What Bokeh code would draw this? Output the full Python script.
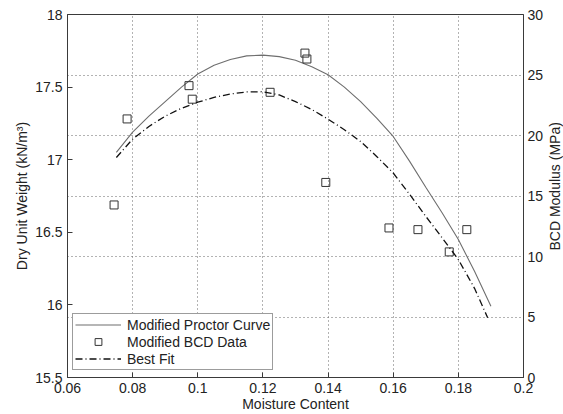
import math
from bokeh.plotting import figure
from bokeh.models import (Range1d, LinearAxis, FixedTicker, Grid, Legend, LegendItem, Label)
from bokeh.layouts import row
from bokeh.embed import file_html
from bokeh.resources import INLINE

# ---------------- data ----------------
proctor_moisture = [0.075, 0.08, 0.085, 0.09, 0.095, 0.10, 0.105, 0.11, 0.115, 0.12,
                    0.125, 0.13, 0.135, 0.14, 0.145, 0.15, 0.155, 0.16, 0.165, 0.17,
                    0.175, 0.18, 0.185, 0.19]
proctor_weight = [17.05, 17.19, 17.30, 17.40, 17.50, 17.59, 17.65, 17.69, 17.715, 17.72,
                  17.71, 17.685, 17.64, 17.585, 17.50, 17.40, 17.285, 17.16, 16.99, 16.81,
                  16.635, 16.45, 16.23, 15.99]

fit_moisture = [0.075, 0.08, 0.085, 0.09, 0.095, 0.10, 0.105, 0.11, 0.115, 0.12,
                0.125, 0.13, 0.135, 0.14, 0.145, 0.15, 0.155, 0.16, 0.165, 0.17,
                0.175, 0.18, 0.185, 0.189]
fit_modulus = [18.18, 19.70, 20.75, 21.60, 22.25, 22.75, 23.15, 23.43, 23.60, 23.62,
               23.35, 22.80, 22.15, 21.35, 20.48, 19.50, 18.25, 16.90, 15.15, 13.32,
               11.55, 9.75, 7.35, 4.94]

bcd_moisture = [0.0743, 0.0783, 0.0973, 0.0983, 0.1222, 0.1329, 0.1335, 0.1393,
                0.1587, 0.1676, 0.1772, 0.1826]
bcd_modulus = [14.26, 21.37, 24.12, 23.00, 23.57, 26.81, 26.32, 16.12,
               12.36, 12.22, 10.38, 12.22]

x_ticks = [0.06, 0.08, 0.1, 0.12, 0.14, 0.16, 0.18, 0.2]
x_tick_labels = ["0.06", "0.08", "0.1", "0.12", "0.14", "0.16", "0.18", "0.2"]
left_ticks = [15.5, 16, 16.5, 17, 17.5, 18]
left_tick_labels = ["15.5", "16", "16.5", "17", "17.5", "18"]
right_ticks = [0, 5, 10, 15, 20, 25, 30]
right_tick_labels = ["0", "5", "10", "15", "20", "25", "30"]

FONT = "Liberation Sans"
FS = "14px"
AX = "#3a3a3a"

p = figure(width=546, height=414, output_backend="svg", toolbar_location=None,
           x_range=Range1d(0.06, 0.2), y_range=Range1d(15.5, 18),
           min_border_left=67, min_border_right=22, min_border_top=14, min_border_bottom=36)
p.extra_y_ranges = {"mpa": Range1d(0, 30)}
p.outline_line_color = AX
p.outline_line_width = 1
p.background_fill_color = "white"
p.border_fill_color = "white"

p.xgrid.visible = False
p.ygrid.visible = False

def style_axis(ax):
    ax.axis_line_color = AX
    ax.major_tick_line_color = AX
    ax.minor_tick_line_color = None
    ax.major_tick_in = 5
    ax.major_tick_out = 0
    ax.major_label_text_font = FONT
    ax.major_label_text_font_size = FS
    ax.major_label_text_color = "#222222"
    ax.axis_label_text_font = FONT
    ax.axis_label_text_font_size = FS
    ax.axis_label_text_font_style = "normal"
    ax.axis_label_text_color = "#222222"

xa = p.xaxis[0]
xa.ticker = FixedTicker(ticks=x_ticks)
xa.major_label_overrides = dict(zip(x_ticks, x_tick_labels))
xa.axis_label = "Moisture Content"
style_axis(xa)
xa.major_label_standoff = 5
xa.axis_label_standoff = 0

ya = p.yaxis[0]
ya.ticker = FixedTicker(ticks=left_ticks)
ya.major_label_overrides = dict(zip(left_ticks, left_tick_labels))
ya.axis_label = "Dry Unit Weight (kN/m³)"
style_axis(ya)
ya.major_label_standoff = 5
ya.axis_label_standoff = 2

ra = LinearAxis(y_range_name="mpa")
ra.ticker = FixedTicker(ticks=right_ticks)
ra.major_label_overrides = dict(zip(right_ticks, right_tick_labels))
style_axis(ra)
ra.major_tick_in = 0
ra.major_label_standoff = 4
p.add_layout(ra, "right")

# dotted grid: vertical at x ticks, horizontal at right-axis ticks
p.add_layout(Grid(dimension=0, ticker=FixedTicker(ticks=x_ticks[1:-1]),
                  grid_line_color="#666666", grid_line_dash="1 3", grid_line_width=1))
p.add_layout(Grid(dimension=1, y_range_name="mpa", ticker=FixedTicker(ticks=right_ticks[1:-1]),
                  grid_line_color="#666666", grid_line_dash="1 3", grid_line_width=1))

r1 = p.line(proctor_moisture, proctor_weight, line_color="#6e6e6e", line_width=1.1)
r2 = p.scatter(bcd_moisture, bcd_modulus, y_range_name="mpa", marker="square", size=8,
               fill_color=None, line_color="#333333", line_width=1)
r3 = p.line(fit_moisture, fit_modulus, y_range_name="mpa", line_color="#111111",
            line_width=1.3, line_dash="7 3 1 3")

legend = Legend(items=[LegendItem(label="Modified Proctor Curve", renderers=[r1]),
                       LegendItem(label="Modified BCD Data", renderers=[r2]),
                       LegendItem(label="Best Fit", renderers=[r3])],
                location=(5, 7), orientation="vertical")
legend.label_text_font = FONT
legend.label_text_font_size = FS
legend.label_text_color = "#222222"
legend.border_line_color = AX
legend.border_line_width = 1
legend.background_fill_alpha = 1
legend.padding = 2
legend.spacing = 0
legend.margin = 0
legend.glyph_width = 46
legend.glyph_height = 17
legend.label_height = 17
legend.label_standoff = 6
p.add_layout(legend, "center")

# narrow strip to the right holding the right-axis title (reads bottom-to-top)
t = figure(width=17, height=414, output_backend="svg", toolbar_location=None,
           x_range=Range1d(0, 1), y_range=Range1d(0, 414),
           min_border_left=0, min_border_right=0, min_border_top=0, min_border_bottom=0)
t.axis.visible = False
t.grid.visible = False
t.outline_line_color = None
t.background_fill_color = "white"
t.border_fill_color = "white"
t.add_layout(Label(x=0.5, y=218, text="BCD Modulus (MPa)", angle=math.pi / 2,
                   text_align="center", text_baseline="middle",
                   text_font=FONT, text_font_size=FS, text_color="#222222"))

layout = row(p, t, spacing=0)
open("out.html", "w").write(file_html(layout, INLINE))
